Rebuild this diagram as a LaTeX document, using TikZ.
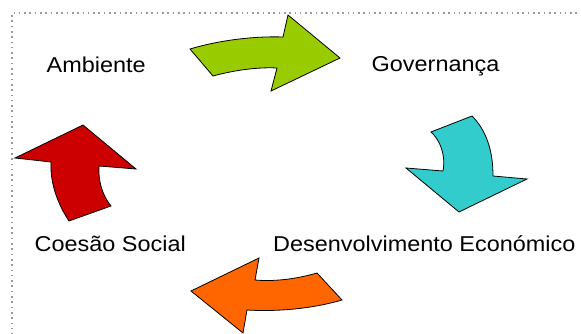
\documentclass[tikz,border=0pt]{standalone}
\usepackage{fontspec}
\setmainfont{Liberation Sans}[FakeStretch=1.09]
\begin{document}
\begin{tikzpicture}[x=1pt,y=-1pt,
  lbl/.style={anchor=base west,inner sep=0pt,font=\fontsize{21.5}{24}\selectfont},
  bigarrow/.style={draw=black,line width=0.8pt,line join=miter}]
\useasboundingbox (0,0) rectangle (581,334);
\clip (0,0) rectangle (581,334);
% dotted frame
\draw[black!40,line width=1.6pt,dash pattern=on 1.6pt off 3.7pt] (11.7,340) -- (11.7,13.3) -- (590,13.3);
% labels
\node[lbl] (amb) at (46.5,72.3) {Ambiente};
\node[lbl] (gov) at (371.5,72) {Governança};
\node[lbl] (coe) at (34.5,251.7) {Coesão Social};
\node[lbl] (dev) at (273,251.7) {Desenvolvimento Económico};
% arrows
\fill[bigarrow,fill={rgb,255:red,153;green,204;blue,0}]
  (190,49) .. controls (220,40) and (255,36) .. (283,37) -- (288,15) -- (340,58) -- (271,91) -- (277,68)
  .. controls (258,67) and (235,70) .. (213,76) -- cycle;
\fill[bigarrow,fill={rgb,255:red,51;green,204;blue,204}]
  (431,132) -- (472,116) .. controls (486,130) and (493,150) .. (493,176) -- (527,179) -- (459,212) -- (406,168) -- (443,171)
  .. controls (446,155) and (440,140) .. (431,132) -- cycle;
\fill[bigarrow,fill={rgb,255:red,204;green,0;blue,0}]
  (69,221) .. controls (57,203) and (50,182) .. (51,162) -- (15,158) -- (83,125) -- (136,169) -- (99,166)
  .. controls (98,180) and (102,195) .. (111,206) -- cycle;
\fill[bigarrow,fill={rgb,255:red,255;green,102;blue,0}]
  (317,273) -- (342,300) .. controls (315,308) and (280,312) .. (247,310) -- (243,333) -- (191,291) -- (259,258) -- (255,280)
  .. controls (277,282) and (300,278) .. (317,273) -- cycle;
\end{tikzpicture}
\end{document}
